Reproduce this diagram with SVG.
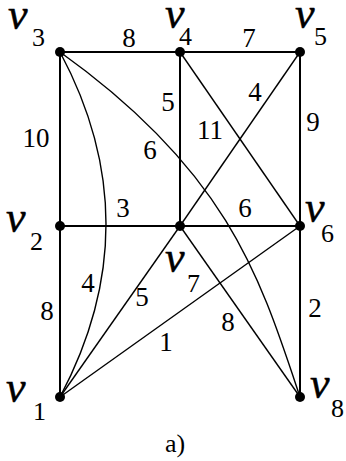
<svg xmlns="http://www.w3.org/2000/svg" width="346" height="461" viewBox="0 0 346 461">
<style>
.e{stroke:#000;stroke-width:1.4;fill:none}
.h{stroke-width:2}
text{font-family:'Liberation Serif','Times New Roman',serif;fill:#000}
.w{font-size:27px;text-anchor:middle}
.v{font-style:italic;font-size:44px;stroke:#000;stroke-width:0.5}
.s{font-size:26px}
.d{fill:#000}
</style>
<rect width="346" height="461" fill="#fff"/>
<g id="connectors">
<line class="e h" x1="60" y1="52" x2="180" y2="52"/>
<line class="e h" x1="180" y1="52" x2="300" y2="52"/>
<line class="e h" x1="60" y1="52" x2="60" y2="226"/>
<line class="e h" x1="60" y1="226" x2="60" y2="397"/>
<line class="e h" x1="300" y1="52" x2="300" y2="226"/>
<line class="e h" x1="300" y1="226" x2="300" y2="397"/>
<line class="e h" x1="180" y1="52" x2="180" y2="226"/>
<line class="e h" x1="60" y1="226" x2="180" y2="226"/>
<line class="e h" x1="180" y1="226" x2="300" y2="226"/>
<path class="e" d="M60,52 Q152,224 60,397"/>
<path class="e" d="M60,52 C228,172 260,277 300,397"/>
<line class="e" x1="180" y1="52" x2="300" y2="226"/>
<line class="e" x1="300" y1="52" x2="180" y2="226"/>
<line class="e" x1="180" y1="226" x2="60" y2="397"/>
<line class="e" x1="300" y1="226" x2="60" y2="397"/>
<line class="e" x1="180" y1="226" x2="300" y2="397"/>
<text class="w" x="129" y="47">8</text>
<text class="w" x="249" y="47">7</text>
<text class="w" x="168" y="111">5</text>
<text class="w" x="255" y="101">4</text>
<text class="w" x="210" y="139">11</text>
<text class="w" x="313" y="131">9</text>
<text class="w" x="36" y="147">10</text>
<text class="w" x="150" y="159">6</text>
<text class="w" x="123" y="217">3</text>
<text class="w" x="245" y="217">6</text>
<text class="w" x="88" y="292">4</text>
<text class="w" x="142" y="306">5</text>
<text class="w" x="47" y="320">8</text>
<text class="w" x="315" y="317">2</text>
<text class="w" x="228" y="331">8</text>
<text class="w" x="166" y="351">1</text>
</g>
<g id="v1"><circle class="d" cx="60" cy="397" r="5"/><text class="v" x="6" y="402">v</text><text class="s" x="33" y="420">1</text></g>
<g id="v2"><circle class="d" cx="60" cy="226" r="5"/><text class="v" x="6" y="232">v</text><text class="s" x="30" y="250">2</text></g>
<g id="v3"><circle class="d" cx="60" cy="52" r="5"/><text class="v" x="8" y="29">v</text><text class="s" x="32" y="46">3</text></g>
<g id="v4"><circle class="d" cx="180" cy="52" r="5"/><text class="v" x="165" y="28">v</text><text class="s" x="179" y="45">4</text></g>
<g id="v5"><circle class="d" cx="300" cy="52" r="5"/><text class="v" x="295" y="28">v</text><text class="s" x="314" y="45">5</text></g>
<g id="v6"><circle class="d" cx="300" cy="226" r="5"/><text class="v" x="305" y="222">v</text><text class="s" x="321" y="242">6</text></g>
<g id="v7"><circle class="d" cx="180" cy="226" r="5"/><text class="v" x="165" y="272">v</text><text class="s" x="187" y="292">7</text></g>
<g id="v8"><circle class="d" cx="300" cy="397" r="5"/><text class="v" x="310" y="398">v</text><text class="s" x="331" y="417">8</text></g>
<text class="w" x="175" y="452" style="font-size:26px">a)</text>
</svg>
